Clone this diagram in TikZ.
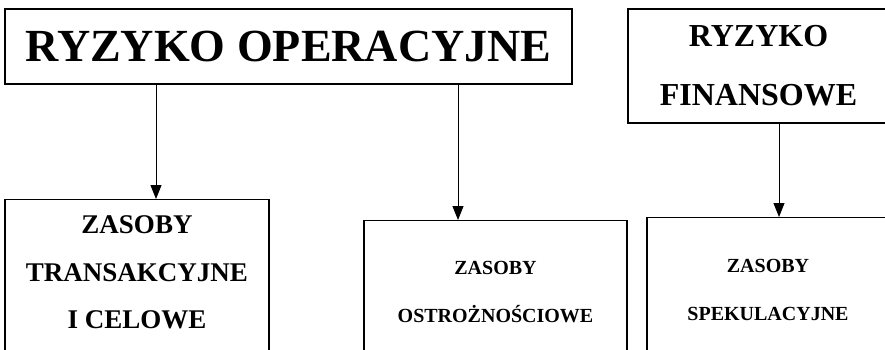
\documentclass[tikz,border=0pt]{standalone}
\usepackage{fontspec}
\setmainfont{Liberation Serif}
\usetikzlibrary{arrows.meta,positioning}

% extra depth below the last line, so the text sits high in an open box
\newcommand{\deepline}[1]{\rule[-#1]{0pt}{#1}}

\begin{document}
\begin{tikzpicture}[
  x=1pt, y=1pt,
  >={Triangle[length=14pt,width=11pt]},
  risk/.style={draw, line width=1.3pt, inner sep=0pt, align=center},
  fund/.style={draw, line width=1.3pt, inner xsep=0pt, align=center, anchor=north},
  arr/.style={->, line width=1pt}
]
\useasboundingbox (0,0) rectangle (885,349);

\node[risk, minimum width=567pt, minimum height=75pt, font=\bfseries\fontsize{46}{50}\selectfont] (ro) at (288.5,302.5) {RYZYKO OPERACYJNE};
\node[risk, minimum width=261pt, minimum height=114pt, font=\bfseries\fontsize{32}{59}\selectfont] (rf) at (758.5,283) {RYZYKO\\FINANSOWE};

\node[fund, minimum width=264pt, inner ysep=16pt, font=\bfseries\fontsize{27}{47.5}\selectfont] (zt) at (137,150) {ZASOBY\\TRANSAKCYJNE\\I CELOWE\deepline{40pt}};
\node[fund, minimum width=263pt, inner ysep=41pt, font=\bfseries\fontsize{20}{48}\selectfont] (os) at (495.5,129) {ZASOBY\\OSTROŻNOŚCIOWE\deepline{20pt}};
\node[fund, minimum width=242pt, inner ysep=42pt, font=\bfseries\fontsize{20}{48}\selectfont] (sp) at (768,132) {ZASOBY\\SPEKULACYJNE\deepline{20pt}};

\coordinate (a1) at ([xshift=19pt]zt.north);
\coordinate (a2) at ([xshift=-37.5pt]os.north);
\coordinate (a3) at ([xshift=11pt]sp.north);

\draw[arr] (a1 |- ro.south) -- (a1);
\draw[arr] (a2 |- ro.south) -- (a2);
\draw[arr] (a3 |- rf.south) -- (a3);

\end{tikzpicture}
\end{document}
